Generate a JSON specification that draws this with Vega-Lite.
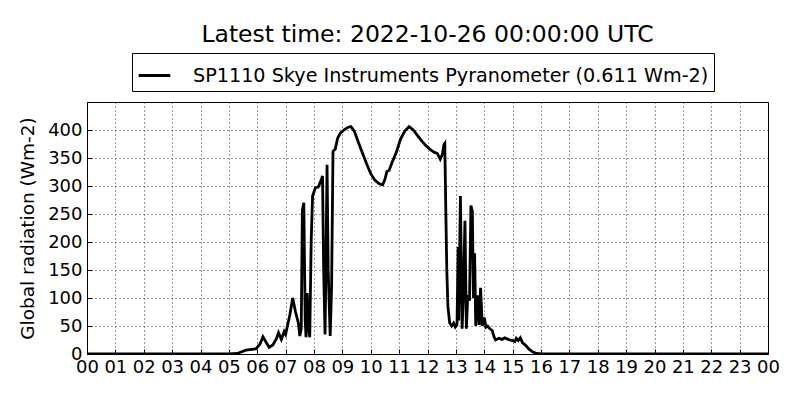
{
  "$schema": "https://vega.github.io/schema/vega-lite/v6.json",
  "width": 681,
  "height": 252,
  "autosize": "none",
  "padding": {"left": 87, "top": 102, "right": 32, "bottom": 46},
  "background": "white",
  "title": {
    "text": "Latest time: 2022-10-26 00:00:00 UTC",
    "font": "DejaVu Sans",
    "fontSize": 23.5,
    "fontWeight": "normal",
    "color": "black",
    "anchor": "middle",
    "offset": 6
  },
  "data": {
    "values": [
      {"h": 0, "v": 0}, {"h": 5.0, "v": 0}, {"h": 5.3, "v": 1}, {"h": 5.45, "v": 4},
      {"h": 5.6, "v": 7}, {"h": 5.95, "v": 9}, {"h": 6.1, "v": 18}, {"h": 6.2, "v": 31},
      {"h": 6.3, "v": 22}, {"h": 6.42, "v": 12}, {"h": 6.55, "v": 16}, {"h": 6.68, "v": 28},
      {"h": 6.75, "v": 38}, {"h": 6.85, "v": 26}, {"h": 6.95, "v": 40}, {"h": 7.0, "v": 35},
      {"h": 7.05, "v": 47}, {"h": 7.15, "v": 70}, {"h": 7.25, "v": 100}, {"h": 7.35, "v": 75},
      {"h": 7.45, "v": 55}, {"h": 7.5, "v": 32}, {"h": 7.55, "v": 45}, {"h": 7.59, "v": 256},
      {"h": 7.64, "v": 270}, {"h": 7.69, "v": 60}, {"h": 7.72, "v": 30}, {"h": 7.76, "v": 109},
      {"h": 7.8, "v": 50}, {"h": 7.85, "v": 30}, {"h": 7.9, "v": 200}, {"h": 7.95, "v": 282},
      {"h": 8.05, "v": 297}, {"h": 8.15, "v": 298}, {"h": 8.25, "v": 310}, {"h": 8.3, "v": 318},
      {"h": 8.34, "v": 150}, {"h": 8.39, "v": 35}, {"h": 8.43, "v": 200}, {"h": 8.46, "v": 338},
      {"h": 8.5, "v": 150}, {"h": 8.57, "v": 32}, {"h": 8.62, "v": 120}, {"h": 8.67, "v": 362},
      {"h": 8.75, "v": 366}, {"h": 8.83, "v": 385}, {"h": 8.92, "v": 394}, {"h": 9.05, "v": 400},
      {"h": 9.2, "v": 405}, {"h": 9.3, "v": 406}, {"h": 9.42, "v": 398}, {"h": 9.55, "v": 380},
      {"h": 9.7, "v": 360}, {"h": 9.85, "v": 340}, {"h": 10.0, "v": 322}, {"h": 10.15, "v": 310},
      {"h": 10.3, "v": 304}, {"h": 10.42, "v": 302}, {"h": 10.5, "v": 312}, {"h": 10.57, "v": 326},
      {"h": 10.65, "v": 328}, {"h": 10.75, "v": 342}, {"h": 10.9, "v": 360}, {"h": 11.05, "v": 384},
      {"h": 11.2, "v": 398}, {"h": 11.35, "v": 406}, {"h": 11.5, "v": 400}, {"h": 11.65, "v": 390},
      {"h": 11.8, "v": 380}, {"h": 11.95, "v": 372}, {"h": 12.1, "v": 365}, {"h": 12.25, "v": 360},
      {"h": 12.35, "v": 358}, {"h": 12.45, "v": 348}, {"h": 12.52, "v": 356}, {"h": 12.58, "v": 374},
      {"h": 12.61, "v": 376}, {"h": 12.64, "v": 273}, {"h": 12.68, "v": 150}, {"h": 12.72, "v": 85},
      {"h": 12.78, "v": 56}, {"h": 12.85, "v": 50}, {"h": 12.92, "v": 55}, {"h": 12.98, "v": 48},
      {"h": 13.04, "v": 52}, {"h": 13.08, "v": 191}, {"h": 13.1, "v": 60}, {"h": 13.16, "v": 282},
      {"h": 13.22, "v": 45}, {"h": 13.26, "v": 100}, {"h": 13.32, "v": 238}, {"h": 13.37, "v": 45},
      {"h": 13.42, "v": 105}, {"h": 13.48, "v": 95}, {"h": 13.53, "v": 265}, {"h": 13.58, "v": 255},
      {"h": 13.62, "v": 100}, {"h": 13.66, "v": 180}, {"h": 13.7, "v": 50}, {"h": 13.77, "v": 105},
      {"h": 13.82, "v": 52}, {"h": 13.87, "v": 118}, {"h": 13.93, "v": 50}, {"h": 14.0, "v": 65},
      {"h": 14.06, "v": 48}, {"h": 14.12, "v": 50}, {"h": 14.2, "v": 45}, {"h": 14.28, "v": 42},
      {"h": 14.35, "v": 30}, {"h": 14.4, "v": 25}, {"h": 14.52, "v": 28}, {"h": 14.63, "v": 26},
      {"h": 14.72, "v": 29}, {"h": 14.8, "v": 27}, {"h": 14.9, "v": 25}, {"h": 15.0, "v": 24},
      {"h": 15.08, "v": 22}, {"h": 15.13, "v": 28}, {"h": 15.2, "v": 24}, {"h": 15.27, "v": 29},
      {"h": 15.35, "v": 20}, {"h": 15.45, "v": 16}, {"h": 15.57, "v": 9}, {"h": 15.7, "v": 4},
      {"h": 15.85, "v": 1}, {"h": 16.0, "v": 0}, {"h": 24, "v": 0}
    ]
  },
  "transform": [
    {"calculate": "'SP1110 Skye Instruments Pyranometer (0.611 Wm-2)'", "as": "series"}
  ],
  "mark": {"type": "line", "strokeWidth": 2.8, "clip": true},
  "encoding": {
    "x": {
      "field": "h",
      "type": "quantitative",
      "scale": {"domain": [0, 24], "nice": false, "zero": false},
      "axis": {
        "title": null,
        "values": [0, 1, 2, 3, 4, 5, 6, 7, 8, 9, 10, 11, 12, 13, 14, 15, 16, 17, 18, 19, 20, 21, 22, 23, 24],
        "labelExpr": "datum.value == 24 ? '00' : (datum.value < 10 ? '0' + datum.value : '' + datum.value)",
        "ticks": true,
        "tickSize": -5,
        "labelPadding": 9,
        "labelOverlap": false,
        "labelFlush": false
      }
    },
    "y": {
      "field": "v",
      "type": "quantitative",
      "scale": {"domain": [0, 450], "nice": false},
      "axis": {
        "title": "Global radiation (Wm-2)",
        "values": [0, 50, 100, 150, 200, 250, 300, 350, 400],
        "ticks": true,
        "tickSize": -5,
        "labelPadding": 10,
        "titlePadding": 10,
        "titleFontSize": 18.5
      }
    },
    "color": {
      "field": "series",
      "type": "nominal",
      "scale": {"range": ["black"]},
      "legend": {
        "title": null,
        "orient": "none",
        "legendX": 45,
        "legendY": -49,
        "symbolType": "stroke",
        "symbolStrokeWidth": 2.8,
        "symbolSize": 1000,
        "labelFontSize": 19.2,
        "labelLimit": 0,
        "labelOffset": 21,
        "strokeColor": "black",
        "padding": 5
      }
    }
  },
  "config": {
    "font": "DejaVu Sans",
    "view": {"stroke": "black", "strokeWidth": 1},
    "axis": {
      "labelFont": "DejaVu Sans",
      "labelFontSize": 18,
      "labelColor": "black",
      "titleFont": "DejaVu Sans",
      "titleFontSize": 18,
      "titleFontWeight": "normal",
      "titleColor": "black",
      "domainColor": "black",
      "tickColor": "black",
      "grid": true,
      "gridColor": "black",
      "gridDash": [1, 3],
      "gridWidth": 0.8,
      "gridOpacity": 1
    },
    "legend": {
      "labelFont": "DejaVu Sans",
      "labelColor": "black"
    }
  }
}
